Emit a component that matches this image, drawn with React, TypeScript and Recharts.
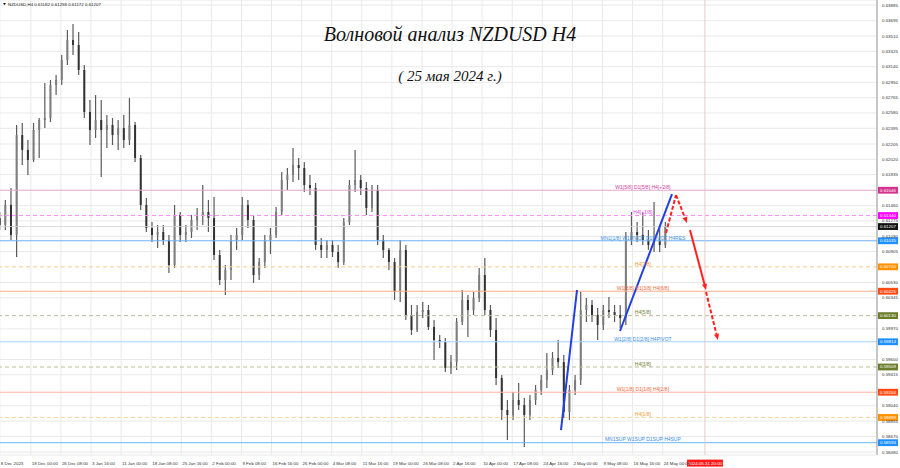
import React from "react";
import { ComposedChart, Bar, XAxis, YAxis, CartesianGrid, ReferenceLine, ReferenceDot } from "recharts";

// trading days, 8 Dec 2023 .. 24 May 2024, then empty future slots
const days = [
  "2023-12-08", "2023-12-11", "2023-12-12", "2023-12-13", "2023-12-14", "2023-12-15",
  "2023-12-18", "2023-12-19", "2023-12-20", "2023-12-21", "2023-12-22",
  "2023-12-26", "2023-12-27", "2023-12-28", "2023-12-29",
  "2024-01-02", "2024-01-03", "2024-01-04", "2024-01-05",
  "2024-01-08", "2024-01-09", "2024-01-10", "2024-01-11", "2024-01-12",
  "2024-01-15", "2024-01-16", "2024-01-17", "2024-01-18", "2024-01-19",
  "2024-01-22", "2024-01-23", "2024-01-24", "2024-01-25", "2024-01-26",
  "2024-01-29", "2024-01-30", "2024-01-31", "2024-02-01", "2024-02-02",
  "2024-02-05", "2024-02-06", "2024-02-07", "2024-02-08", "2024-02-09",
  "2024-02-12", "2024-02-13", "2024-02-14", "2024-02-15", "2024-02-16",
  "2024-02-19", "2024-02-20", "2024-02-21", "2024-02-22", "2024-02-23",
  "2024-02-26", "2024-02-27", "2024-02-28", "2024-02-29", "2024-03-01",
  "2024-03-04", "2024-03-05", "2024-03-06", "2024-03-07", "2024-03-08",
  "2024-03-11", "2024-03-12", "2024-03-13", "2024-03-14", "2024-03-15",
  "2024-03-18", "2024-03-19", "2024-03-20", "2024-03-21", "2024-03-22",
  "2024-03-25", "2024-03-26", "2024-03-27", "2024-03-28", "2024-03-29",
  "2024-04-01", "2024-04-02", "2024-04-03", "2024-04-04", "2024-04-05",
  "2024-04-08", "2024-04-09", "2024-04-10", "2024-04-11", "2024-04-12",
  "2024-04-15", "2024-04-16", "2024-04-17", "2024-04-18", "2024-04-19",
  "2024-04-22", "2024-04-23", "2024-04-24", "2024-04-25", "2024-04-26",
  "2024-04-29", "2024-04-30", "2024-05-01", "2024-05-02", "2024-05-03",
  "2024-05-06", "2024-05-07", "2024-05-08", "2024-05-09", "2024-05-10",
  "2024-05-13", "2024-05-14", "2024-05-15", "2024-05-16", "2024-05-17",
  "2024-05-20", "2024-05-21", "2024-05-22", "2024-05-23", "2024-05-24",
];

const futureDays = [
  "2024-05-27", "2024-05-28", "2024-05-29", "2024-05-30", "2024-05-31",
  "2024-06-03", "2024-06-04", "2024-06-05", "2024-06-06", "2024-06-07",
  "2024-06-10", "2024-06-11", "2024-06-12", "2024-06-13", "2024-06-14",
  "2024-06-17", "2024-06-18", "2024-06-19", "2024-06-20", "2024-06-21",
  "2024-06-24", "2024-06-25", "2024-06-26", "2024-06-27", "2024-06-28",
  "2024-07-01", "2024-07-02", "2024-07-03", "2024-07-04", "2024-07-05",
  "2024-07-08", "2024-07-09", "2024-07-10", "2024-07-11", "2024-07-12",
  "2024-07-15", "2024-07-16",
];

const openP = [
  0.61310, 0.61226, 0.61468, 0.61105, 0.62314, 0.62133, 0.62012, 0.62374, 0.62495, 0.62519,
  0.62918, 0.62979, 0.63221, 0.63462, 0.63402, 0.63100, 0.62592, 0.62374, 0.62495, 0.62374,
  0.62435, 0.62314, 0.62398, 0.62253, 0.62435, 0.62036, 0.61468, 0.61189, 0.61105, 0.61141,
  0.61044, 0.60742, 0.61347, 0.61105, 0.61141, 0.61286, 0.61347, 0.61383, 0.61310, 0.60863,
  0.60561, 0.60682, 0.61044, 0.61105, 0.61468, 0.61286, 0.60621, 0.60778, 0.61044, 0.61105,
  0.61383, 0.61770, 0.61830, 0.61951, 0.61915, 0.61709, 0.61673, 0.60984, 0.60924, 0.60984,
  0.60899, 0.60778, 0.61262, 0.61709, 0.61770, 0.61673, 0.61431, 0.61649, 0.61044, 0.60924,
  0.60778, 0.60416, 0.60924, 0.60138, 0.59956, 0.60174, 0.60198, 0.59993, 0.59835, 0.59811,
  0.59497, 0.59569, 0.60053, 0.60319, 0.60198, 0.60343, 0.60621, 0.60198, 0.59956, 0.59376,
  0.58989, 0.58929, 0.59110, 0.59050, 0.58929, 0.59110, 0.59231, 0.59352, 0.59473, 0.59618,
  0.59569, 0.58965, 0.59231, 0.59352, 0.60198, 0.60259, 0.60138, 0.60017, 0.60198, 0.60174,
  0.60138, 0.60101, 0.61044, 0.61141, 0.61105, 0.61044, 0.60984, 0.61044, 0.60984,
];

const highP = [
  0.61383, 0.61528, 0.61673, 0.62435, 0.62459, 0.62253, 0.62459, 0.62519, 0.62943, 0.62979,
  0.63039, 0.63281, 0.63583, 0.63656, 0.63559, 0.63160, 0.62737, 0.62797, 0.62737, 0.62556,
  0.62519, 0.62495, 0.62556, 0.62761, 0.62471, 0.62072, 0.61552, 0.61262, 0.61226, 0.61226,
  0.61105, 0.61468, 0.61383, 0.61226, 0.61347, 0.61431, 0.61709, 0.61528, 0.61564, 0.60924,
  0.60742, 0.61105, 0.61189, 0.61564, 0.61528, 0.61347, 0.60827, 0.61105, 0.61189, 0.61443,
  0.61866, 0.61915, 0.62157, 0.62036, 0.61987, 0.61830, 0.61734, 0.61069, 0.61044, 0.61044,
  0.60984, 0.61310, 0.61770, 0.62133, 0.61830, 0.61746, 0.61709, 0.61709, 0.61105, 0.60948,
  0.60827, 0.61044, 0.60984, 0.60259, 0.60259, 0.60295, 0.60259, 0.60077, 0.59896, 0.59860,
  0.59654, 0.60101, 0.60440, 0.60379, 0.60416, 0.60706, 0.60827, 0.60259, 0.60101, 0.59412,
  0.59110, 0.59207, 0.59316, 0.59134, 0.59170, 0.59291, 0.59412, 0.59678, 0.59690, 0.59835,
  0.59654, 0.59291, 0.59412, 0.60416, 0.60343, 0.60319, 0.60222, 0.60259, 0.60355, 0.60259,
  0.60259, 0.61141, 0.61383, 0.61262, 0.61371, 0.61165, 0.61504, 0.61226, 0.61262,
];

const lowP = [
  0.61165, 0.61165, 0.61044, 0.60839, 0.61951, 0.61830, 0.61987, 0.62036, 0.62398, 0.62471,
  0.62797, 0.62918, 0.63160, 0.63281, 0.63039, 0.62519, 0.62193, 0.62278, 0.61806, 0.62157,
  0.62193, 0.62133, 0.62157, 0.62193, 0.61987, 0.61407, 0.61141, 0.61020, 0.60948, 0.60984,
  0.60645, 0.60706, 0.61020, 0.61020, 0.61069, 0.61165, 0.61226, 0.61141, 0.60803, 0.60500,
  0.60379, 0.60561, 0.60924, 0.61044, 0.61189, 0.60525, 0.60561, 0.60706, 0.60875, 0.61069,
  0.61347, 0.61649, 0.61746, 0.61770, 0.61625, 0.61588, 0.60924, 0.60827, 0.60827, 0.60839,
  0.60706, 0.60742, 0.61226, 0.61625, 0.61588, 0.61347, 0.61383, 0.60984, 0.60827, 0.60682,
  0.60319, 0.60295, 0.60077, 0.59896, 0.59932, 0.60101, 0.59956, 0.59594, 0.59739, 0.59449,
  0.59424, 0.59473, 0.60017, 0.59872, 0.60138, 0.60295, 0.60138, 0.59872, 0.59291, 0.58868,
  0.58626, 0.58868, 0.58989, 0.58542, 0.58868, 0.59050, 0.59170, 0.59255, 0.59412, 0.59497,
  0.58892, 0.58868, 0.59170, 0.59291, 0.60053, 0.60053, 0.59835, 0.59956, 0.60101, 0.60053,
  0.59981, 0.60017, 0.60984, 0.61020, 0.60984, 0.60924, 0.60899, 0.60899, 0.60948,
];

const closeP = [
  0.61226, 0.61468, 0.61105, 0.62314, 0.62133, 0.62012, 0.62374, 0.62495, 0.62519, 0.62918,
  0.62979, 0.63221, 0.63462, 0.63402, 0.63100, 0.62592, 0.62374, 0.62495, 0.62374, 0.62435,
  0.62314, 0.62398, 0.62253, 0.62435, 0.62036, 0.61468, 0.61189, 0.61105, 0.61141, 0.61044,
  0.60742, 0.61347, 0.61105, 0.61141, 0.61286, 0.61347, 0.61383, 0.61310, 0.60863, 0.60561,
  0.60682, 0.61044, 0.61105, 0.61468, 0.61286, 0.60621, 0.60778, 0.61044, 0.61105, 0.61383,
  0.61770, 0.61830, 0.61951, 0.61915, 0.61709, 0.61673, 0.60984, 0.60924, 0.60984, 0.60899,
  0.60778, 0.61262, 0.61709, 0.61770, 0.61673, 0.61431, 0.61649, 0.61044, 0.60924, 0.60778,
  0.60416, 0.60924, 0.60138, 0.59956, 0.60174, 0.60198, 0.59993, 0.59835, 0.59811, 0.59497,
  0.59569, 0.60053, 0.60319, 0.60198, 0.60343, 0.60621, 0.60198, 0.59956, 0.59376, 0.58989,
  0.58929, 0.59110, 0.59050, 0.58929, 0.59110, 0.59231, 0.59352, 0.59473, 0.59618, 0.59569,
  0.58965, 0.59231, 0.59352, 0.60198, 0.60259, 0.60138, 0.60017, 0.60198, 0.60174, 0.60138,
  0.60101, 0.61044, 0.61141, 0.61105, 0.61044, 0.60984, 0.61044, 0.60984, 0.61207,
];

// right price scale (labels that the level boxes cover are left out)
const priceTicks = [
  0.63885, 0.63695, 0.6351, 0.63325, 0.6314, 0.6295, 0.62765, 0.6258, 0.62395, 0.62205,
  0.6202, 0.61835, 0.6146, 0.61275, 0.6109, 0.60905, 0.6053, 0.60345,
  0.5997, 0.596, 0.59415, 0.5904, 0.58855, 0.5867, 0.5848,
];

// time scale labels: [day, hour, text]
const timeLabels: [string, number, string][] = [
  ["2023-12-08", 12, "8 Dec 2023"],
  ["2023-12-18", 0, "18 Dec 00:00"],
  ["2023-12-26", 8, "26 Dec 08:00"],
  ["2024-01-03", 16, "3 Jan 16:00"],
  ["2024-01-11", 0, "11 Jan 00:00"],
  ["2024-01-18", 8, "18 Jan 08:00"],
  ["2024-01-25", 16, "25 Jan 16:00"],
  ["2024-02-02", 0, "2 Feb 00:00"],
  ["2024-02-09", 8, "9 Feb 08:00"],
  ["2024-02-16", 16, "16 Feb 16:00"],
  ["2024-02-26", 0, "26 Feb 00:00"],
  ["2024-03-04", 8, "4 Mar 08:00"],
  ["2024-03-11", 16, "11 Mar 16:00"],
  ["2024-03-19", 0, "19 Mar 00:00"],
  ["2024-03-26", 8, "26 Mar 08:00"],
  ["2024-04-02", 16, "2 Apr 16:00"],
  ["2024-04-10", 0, "10 Apr 00:00"],
  ["2024-04-17", 8, "17 Apr 08:00"],
  ["2024-04-24", 16, "24 Apr 16:00"],
  ["2024-05-02", 0, "2 May 00:00"],
  ["2024-05-09", 8, "9 May 08:00"],
  ["2024-05-16", 16, "16 May 16:00"],
  ["2024-05-24", 0, "24 May 00:00"],
];

// Murrey math levels
const levelPrices = [0.61646, 0.6134, 0.61035, 0.6072, 0.60425, 0.6013, 0.59814, 0.59509, 0.59204, 0.58899, 0.58594];
const levelNames = [
  "W1[5/8] D1[5/8] H4[+2/8]",
  "H4[+1/8]",
  "MN1[1/8] W1PIVOT D1PIVOT H4RES",
  "H4[7/8]",
  "W1[3/8] D1[3/8] H4[6/8]",
  "H4[5/8]",
  "W1[2/8] D1[2/8] H4PIVOT",
  "H4[3/8]",
  "W1[1/8] D1[1/8] H4[2/8]",
  "H4[1/8]",
  "MN1SUP W1SUP D1SUP H4SUP",
];
const lastPrice = 0.61207;

// wave marks: [fromDay, fromPrice, toDay, toPrice]
const waveLines: number[][] = [
  [99.48, 0.58747, 102.32, 0.6044],
  [109.94, 0.59944, 119.16, 0.616],
];
const forecastUp = [118.1, 0.61129, 119.87, 0.61588];
const forecastDown1 = [119.87, 0.61588, 121.82, 0.6125];
const forecastDown2 = [122.35, 0.61165, 125.19, 0.6044];
const forecastDown3 = [125.19, 0.60416, 127.3, 0.59835];
const cursorDay = 125.0;
const cursorLabel = "2024.05.31 20:00";

// styles
const levelLine = ["#e2a6cf", "#ff8cff", "#6fb0f2", "#ffc98c", "#ffae8c", "#bdbd9a", "#a9d3fb", "#bdbd9a", "#ffb3a1", "#ffd39c", "#6fb8f5"];
const levelDash = ["", "4 3", "", "4 3", "", "4 3", "", "4 3", "", "4 3", ""];
const levelText = ["#d0409c", "#e040e0", "#3b8fe0", "#f09a30", "#f06a3a", "#6f7f30", "#3b8fe0", "#6f7f30", "#f06a3a", "#f09a30", "#3b8fe0"];
const levelBox = ["#d4338f", "#ff00ff", "#1e90ff", "#ff9000", "#ff4a14", "#6b7d2a", "#1e90ff", "#6b7d2a", "#ff4a14", "#ff9000", "#1e90ff"];
const labelDay = 114;
const FONT = "'Liberation Sans', Arial, sans-serif";
const TINY = 4.4;
const TIME_BASELINE = 464.6;

const allDays = [...days, ...futureDays];
const N = allDays.length;

const data = allDays.map((d, i) =>
  i < days.length
    ? { date: d, idx: i, range: [lowP[i], highP[i]], o: openP[i], h: highP[i], l: lowP[i], c: closeP[i] }
    : { date: d, idx: i }
);

const tickPos = timeLabels.map(([d, hr]) => days.indexOf(d) - 0.5 + hr / 24);
const tickText = new Map(tickPos.map((t, i) => [t, timeLabels[i][2]]));

const Candle = (props: any) => {
  const { x, y, width, height, payload } = props;
  if (!payload || payload.o == null) return null;
  const top = Math.min(y, y + height);
  const bot = Math.max(y, y + height);
  const span = payload.h - payload.l || 1e-9;
  const py = (p: number) => top + ((payload.h - p) / span) * (bot - top);
  const cx = x + width / 2;
  const yo = py(payload.o);
  const yc = py(payload.c);
  const bull = payload.c >= payload.o;
  return (
    <g>
      <line x1={cx} x2={cx} y1={top} y2={bot} stroke="#5a5a5a" strokeWidth={1.2} />
      <rect
        x={x}
        y={Math.min(yo, yc)}
        width={width}
        height={Math.max(1, Math.abs(yc - yo))}
        fill={bull ? "#7d7d7d" : "#333"}
      />
    </g>
  );
};

const PriceBox = (props: any) => {
  const { viewBox, value, color } = props;
  if (!viewBox) return null;
  const bx = viewBox.x + viewBox.width + 1;
  return (
    <g>
      <rect x={bx} y={viewBox.y - 3.4} width={20} height={6.8} fill={color} />
      <text x={bx + 2} y={viewBox.y + 1.5} fontSize={TINY} fill="#fff" fontFamily={FONT}>
        {value.toFixed(5)}
      </text>
    </g>
  );
};

const TimeBox = (props: any) => {
  const { viewBox } = props;
  if (!viewBox) return null;
  const cx = viewBox.x;
  return (
    <g>
      <rect x={cx - 18} y={TIME_BASELINE - 5} width={36} height={7} fill="#ff1a1a" />
      <text x={cx} y={TIME_BASELINE} fontSize={TINY} fill="#fff" textAnchor="middle" fontFamily={FONT}>
        {cursorLabel}
      </text>
    </g>
  );
};

const Arrow = (props: any) => {
  const { x1, y1, x2, y2, stroke, strokeDasharray, head } = props;
  if (x1 == null) return null;
  const a = Math.atan2(y2 - y1, x2 - x1);
  const L = 6;
  const w = 2.6;
  const bx = x2 - L * Math.cos(a);
  const by = y2 - L * Math.sin(a);
  const px = -Math.sin(a) * w;
  const py = Math.cos(a) * w;
  return (
    <g>
      <line x1={x1} y1={y1} x2={head ? bx : x2} y2={head ? by : y2} stroke={stroke} strokeWidth={2} strokeDasharray={strokeDasharray} />
      {head && <polygon points={`${x2},${y2} ${bx + px},${by + py} ${bx - px},${by - py}`} fill={stroke} />}
    </g>
  );
};

const seg = (s: number[]) => [
  { x: s[0], y: s[1] },
  { x: s[2], y: s[3] },
];

const XTick = (props: any) => {
  const { x, payload } = props;
  return (
    <text x={x + 1} y={TIME_BASELINE} fontSize={TINY} fill="#333" fontFamily={FONT}>
      {tickText.get(payload.value) ?? ""}
    </text>
  );
};

const YTick = (props: any) => {
  const { x, y, payload } = props;
  return (
    <text x={x + 3} y={y + 1.5} fontSize={TINY} fill="#333" fontFamily={FONT}>
      {Number(payload.value).toFixed(5)}
    </text>
  );
};

export default function App() {
  return (
    <div style={{ position: "relative", width: 900, height: 468, overflow: "hidden", background: "#fff" }}>
      <style>{"body{margin:0}"}</style>
      <div style={{ position: "absolute", left: -3, top: 0 }}>
        <ComposedChart
          width={903}
          height={468}
          data={data}
          margin={{ top: 0, right: 0, bottom: 0, left: 0 }}
          barCategoryGap="30%"
        >
          <XAxis xAxisId="c" dataKey="date" type="category" hide />
          <XAxis
            xAxisId="t"
            dataKey="idx"
            type="number"
            domain={[-0.5, N - 0.5]}
            allowDataOverflow
            ticks={tickPos}
            interval={0}
            height={13}
            tickSize={0}
            tickLine={false}
            axisLine={{ stroke: "#9a9a9a" }}
            tick={<XTick />}
          />
          <YAxis
            yAxisId="p"
            orientation="right"
            type="number"
            domain={[0.58445, 0.63946]}
            allowDataOverflow
            ticks={priceTicks}
            interval={0}
            width={23}
            tickSize={0}
            tickLine={false}
            axisLine={{ stroke: "#9a9a9a" }}
            tick={<YTick />}
          />
          <CartesianGrid xAxisId="t" yAxisId="p" stroke="#e9e9e9" />

          {levelPrices.map((p, i) => (
            <ReferenceLine
              key={"lv" + i}
              xAxisId="t"
              yAxisId="p"
              y={p}
              stroke={levelLine[i]}
              strokeWidth={1}
              strokeDasharray={levelDash[i] || undefined}
            />
          ))}
          <ReferenceLine xAxisId="t" yAxisId="p" y={lastPrice} stroke="#d0d0d0" strokeWidth={0.8} />
          <ReferenceLine
            xAxisId="t"
            yAxisId="p"
            x={cursorDay}
            stroke="#e3bcbc"
            strokeWidth={0.8}
            label={<TimeBox />}
          />

          <Bar xAxisId="c" yAxisId="p" dataKey="range" shape={<Candle />} isAnimationActive={false} />

          {levelPrices.map((p, i) => (
            <ReferenceDot
              key={"ln" + i}
              xAxisId="t"
              yAxisId="p"
              x={labelDay}
              y={p}
              r={0}
              stroke="none"
              label={{ value: levelNames[i], position: "top", offset: 1.2, fontSize: 5, fill: levelText[i], fontFamily: FONT }}
            />
          ))}

          {waveLines.map((s, i) => (
            <ReferenceLine
              key={"wv" + i}
              xAxisId="t"
              yAxisId="p"
              segment={seg(s)}
              stroke="#2440dc"
              strokeWidth={2}
              ifOverflow="visible"
            />
          ))}
          <ReferenceLine xAxisId="t" yAxisId="p" segment={seg(forecastUp)} ifOverflow="visible" shape={(p: any) => <Arrow {...p} stroke="#ff2020" strokeDasharray="4 2" head={false} />} />
          <ReferenceLine xAxisId="t" yAxisId="p" segment={seg(forecastDown1)} ifOverflow="visible" shape={(p: any) => <Arrow {...p} stroke="#ff2020" strokeDasharray="4 2" head />} />
          <ReferenceLine xAxisId="t" yAxisId="p" segment={seg(forecastDown2)} ifOverflow="visible" shape={(p: any) => <Arrow {...p} stroke="#ff2020" head />} />
          <ReferenceLine xAxisId="t" yAxisId="p" segment={seg(forecastDown3)} ifOverflow="visible" shape={(p: any) => <Arrow {...p} stroke="#ff2020" strokeDasharray="4 2" head />} />

          {levelPrices.map((p, i) => (
            <ReferenceLine
              key={"bx" + i}
              xAxisId="t"
              yAxisId="p"
              y={p}
              stroke="none"
              label={<PriceBox value={p} color={levelBox[i]} />}
            />
          ))}
          <ReferenceLine xAxisId="t" yAxisId="p" y={lastPrice} stroke="none" label={<PriceBox value={lastPrice} color="#111" />} />
        </ComposedChart>
      </div>
      <svg width={900} height={468} style={{ position: "absolute", left: 0, top: 0, pointerEvents: "none" }}>
        <polygon points="3,3 6,3 4.5,5.2" fill="#222" />
        <text x={8} y={5.6} fontSize={TINY} fill="#222" fontFamily={FONT}>
          NZDUSD,H4  0.61182 0.61258 0.61172 0.61207
        </text>
        <text x={450} y={41} fontSize={20} fontStyle="italic" textAnchor="middle" fill="#111" fontFamily="'Liberation Serif', serif">
          Волновой анализ NZDUSD H4
        </text>
        <text x={450} y={81} fontSize={15} fontStyle="italic" textAnchor="middle" fill="#111" fontFamily="'Liberation Serif', serif">
          ( 25 мая 2024 г.)
        </text>
      </svg>
    </div>
  );
}
